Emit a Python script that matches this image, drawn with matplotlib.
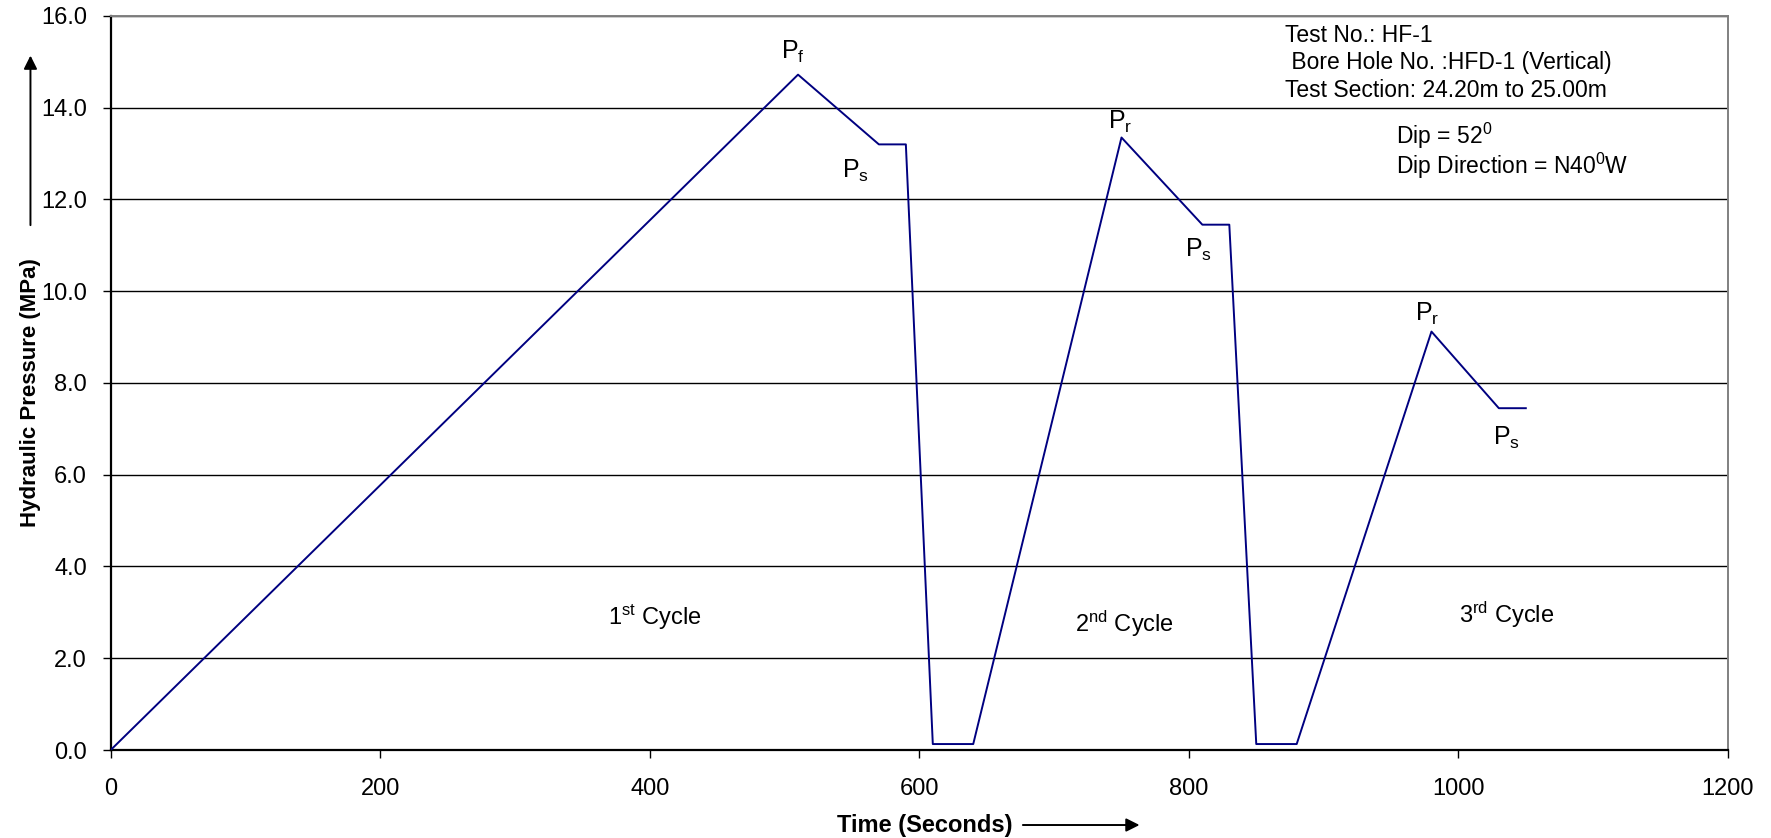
import numpy as np
import matplotlib
matplotlib.use('Agg')
import matplotlib.pyplot as plt

plt.rcParams['font.family'] = ['Liberation Sans', 'DejaVu Sans']
plt.rcParams['mathtext.fontset'] = 'custom'
plt.rcParams['mathtext.rm'] = 'Liberation Sans'
plt.rcParams['mathtext.it'] = 'Liberation Sans:italic'

# pressure record (time s, pressure MPa)
time_s = [0, 510, 570, 590, 610, 640, 750, 810, 830, 850, 880, 980, 1030, 1050]
pressure = [0.0, 14.72, 13.2, 13.2, 0.13, 0.13, 13.35, 11.45, 11.45, 0.13, 0.13, 9.12, 7.45, 7.45]

# point labels: (text, x, y)
point_labels = [
    (r'P$_{\mathrm{f}}$', 506, 15.22),
    (r'P$_{\mathrm{s}}$', 553, 12.62),
    (r'P$_{\mathrm{r}}$', 749, 13.68),
    (r'P$_{\mathrm{s}}$', 807, 10.9),
    (r'P$_{\mathrm{r}}$', 977, 9.5),
    (r'P$_{\mathrm{s}}$', 1036, 6.8),
]
cycle_labels = [
    (r'1$^{\mathrm{st}}$ Cycle', 404, 2.9),
    (r'2$^{\mathrm{nd}}$ Cycle', 752, 2.75),
    (r'3$^{\mathrm{rd}}$ Cycle', 1036, 2.95),
]
# info block lines: (text, x, baseline y)
info_lines = [
    ('Test No.: HF-1', 871, 15.43),
    (' Bore Hole No. :HFD-1 (Vertical)', 871, 14.84),
    ('Test Section: 24.20m to 25.00m', 871, 14.24),
    ('Dip = 52$^{0}$', 954, 13.2),
    ('Dip Direction = N40$^{0}$W', 954, 12.56),
]

fig = plt.figure(figsize=(17.71, 8.38), dpi=100)
ax = fig.add_axes([0.0625, 0.105, 0.9132, 0.876])

ax.plot(time_s, pressure, color='#000080', lw=1.4, zorder=3)

ax.set_xlim(0, 1200)
ax.set_ylim(0, 16)
ax.set_xticks(np.arange(0, 1201, 200))
ax.set_yticks(np.arange(0, 16.1, 2))
ax.set_yticklabels(['%.1f' % v for v in np.arange(0, 16.1, 2)])
ax.tick_params(axis='both', labelsize=17, length=6, width=1, direction='out')
ax.tick_params(axis='y', pad=11)
ax.tick_params(axis='x', pad=14)
ax.yaxis.grid(True, color='black', lw=1.0)
ax.set_axisbelow(True)

ax.spines['left'].set_linewidth(1.6)
ax.spines['bottom'].set_linewidth(1.6)
ax.spines['top'].set_color('#808080')
ax.spines['right'].set_color('#808080')
ax.spines['top'].set_linewidth(1.4)
ax.spines['right'].set_linewidth(1.4)

for txt, x, y in point_labels:
    ax.text(x, y, txt, fontsize=18, ha='center', va='center')
for txt, x, y in cycle_labels:
    ax.text(x, y, txt, fontsize=17, ha='center', va='center')
for txt, x, y in info_lines:
    ax.text(x, y, txt, fontsize=16.5, ha='left', va='baseline')

# axis titles with arrows, as in the original figure
fig.text(0.0172, 0.532, 'Hydraulic Pressure (MPa)', rotation=90, fontsize=16,
         fontweight='bold', ha='center', va='center')
fig.add_artist(matplotlib.patches.FancyArrowPatch(
    (0.0172, 0.728), (0.0172, 0.937), transform=fig.transFigure,
    arrowstyle='-|>', mutation_scale=20, color='black', lw=1.4))

fig.text(0.522, 0.0155, 'Time (Seconds)', fontsize=17, fontweight='bold',
         ha='center', va='center')
fig.add_artist(matplotlib.patches.FancyArrowPatch(
    (0.576, 0.0155), (0.645, 0.0155), transform=fig.transFigure,
    arrowstyle='-|>', mutation_scale=20, color='black', lw=1.4))

fig.savefig('out.png', dpi=100)
